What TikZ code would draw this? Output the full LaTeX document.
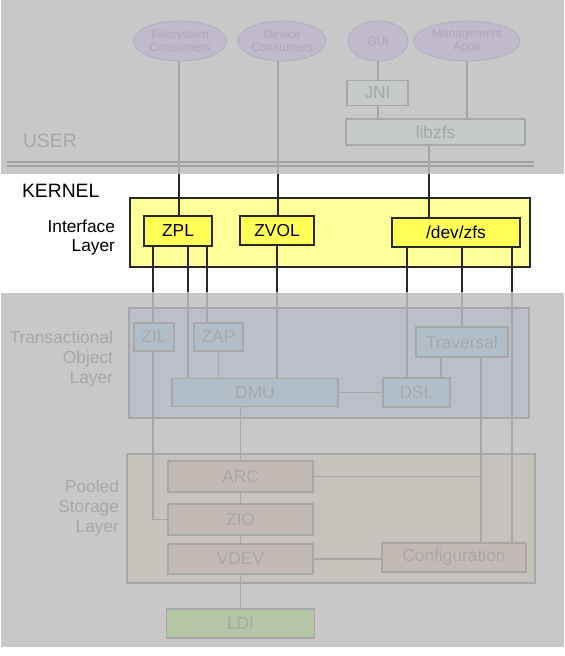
\documentclass[tikz,border=0pt]{standalone}
\usepackage{fontspec}
\setmainfont{Liberation Sans}
\usetikzlibrary{shapes,calc}
\definecolor{fadebg}{RGB}{200,200,200}
\definecolor{fadeline}{RGB}{168,168,168}
\definecolor{fadetext}{RGB}{168,168,168}
\definecolor{sepgray}{RGB}{160,160,160}
\definecolor{consumerpurple}{RGB}{192,186,203}
\definecolor{consumeredge}{RGB}{182,177,192}
\definecolor{consumertext}{RGB}{174,168,186}
\definecolor{libgray}{RGB}{196,201,201}
\definecolor{tolblue}{RGB}{187,192,200}
\definecolor{tolbox}{RGB}{177,190,200}
\definecolor{pslbrown}{RGB}{199,194,188}
\definecolor{pslbox}{RGB}{196,186,181}
\definecolor{ldigreen}{RGB}{180,198,166}
\definecolor{ifaceyellow}{RGB}{255,255,153}
\definecolor{zplyellow}{RGB}{255,255,85}
\definecolor{kernelline}{RGB}{40,40,40}

\begin{document}
\begin{tikzpicture}[x=0.75pt, y=-0.75pt,
  every node/.style={inner sep=0pt, outer sep=0pt},
  gline/.style={draw=fadeline, line width=0.8pt},
  kline/.style={draw=kernelline, line width=0.8pt},
  consumer/.style={ellipse, draw=consumeredge, fill=consumerpurple, line width=0.8pt, text=consumertext, align=center, font=\fontsize{9}{9.75}\selectfont, minimum height=30pt},
  fadebox/.style={draw=fadeline, line width=1pt, text=fadetext, font=\fontsize{13}{15}\selectfont},
  kernelbox/.style={draw=kernelline, line width=1pt, fill=zplyellow, font=\fontsize{13}{15}\selectfont},
  layerlabel/.style={anchor=east, align=right, font=\fontsize{13}{15}\selectfont}
]
\useasboundingbox (0,0) rectangle (564,656);

% Backgrounds
\fill[fadebg] (1,0) rectangle (564,174);
\fill[fadebg] (1,293) rectangle (564,647);
\draw[sepgray, line width=1.1pt] (7,162) -- (534,162);
\draw[sepgray, line width=1.1pt] (7,166) -- (534,166);

% User space
\node[text=fadetext, anchor=west, font=\fontsize{14.5}{17}\selectfont] (user) at (23,141) {USER};
\node[consumer, minimum width=69.75pt] (fsc) at (180,41) {Filesystem\\Consumers};
\node[consumer, minimum width=66pt] (dvc) at (282,41) {Device\\Consumers};
\node[consumer, minimum width=45pt] (gui) at (378,41) {GUI};
\node[consumer, minimum width=79.5pt] (mgmt) at (467,41) {Management\\Apps};
\node[fadebox, fill=libgray, minimum width=45.75pt, minimum height=18.75pt] (jni) at (377.5,93) {JNI};
\node[fadebox, fill=libgray, minimum width=134.25pt, minimum height=19.5pt] (libzfs) at (435.5,132) {libzfs};

% Kernel: interface layer
\node[anchor=west, font=\fontsize{14.5}{17}\selectfont] (kernel) at (22,191) {KERNEL};
\node[layerlabel, font=\fontsize{13}{14.25}\selectfont] (ilabel) at (115,238) {Interface\\Layer};
\node[draw=kernelline, line width=1pt, fill=ifaceyellow, minimum width=300pt, minimum height=51.75pt] (iface) at (330,232.5) {};
\node[kernelbox, minimum width=51pt, minimum height=22.5pt] (zpl) at (178,231) {ZPL};
\node[kernelbox, minimum width=55.5pt, minimum height=21.75pt] (zvol) at (277,230.5) {ZVOL};
\node[kernelbox, minimum width=96pt, minimum height=21.75pt] (devzfs) at (456,232.5) {/dev/zfs};

% Transactional object layer
\node[layerlabel, text=fadetext] (tlabel) at (113,359) {Transactional\\Object\\Layer};
\node[draw=fadeline, line width=1pt, fill=tolblue, minimum width=300pt, minimum height=82.5pt] (tol) at (329,363) {};
\node[fadebox, fill=tolbox, minimum width=30pt, minimum height=21pt] (zil) at (154,337) {ZIL};
\node[fadebox, fill=tolbox, minimum width=36.75pt, minimum height=21pt] (zap) at (218.5,337) {ZAP};
\node[fadebox, fill=tolbox, minimum width=69pt, minimum height=22.5pt] (traversal) at (462,342) {Traversal};
\node[fadebox, fill=tolbox, minimum width=124.5pt, minimum height=21pt] (dmu) at (255,392.5) {DMU};
\node[fadebox, fill=tolbox, minimum width=50.25pt, minimum height=21.75pt] (dsl) at (416.5,392.5) {DSL};

% Pooled storage layer
\node[layerlabel, text=fadetext] (plabel) at (119,508) {Pooled\\Storage\\Layer};
\node[draw=fadeline, line width=1pt, fill=pslbrown, minimum width=306pt, minimum height=96.75pt] (psl) at (331,518.5) {};
\node[fadebox, fill=pslbox, minimum width=108.75pt, minimum height=23.25pt] (arc) at (240.5,476.5) {ARC};
\node[fadebox, fill=pslbox, minimum width=108.75pt, minimum height=23.25pt] (zio) at (240.5,519.5) {ZIO};
\node[fadebox, fill=pslbox, minimum width=108.75pt, minimum height=22.5pt] (vdev) at (240.5,559) {VDEV};
\node[fadebox, fill=pslbox, minimum width=108pt, minimum height=21.75pt] (config) at (454,557.5) {Configuration};
\node[fadebox, fill=ldigreen, minimum width=111pt, minimum height=21.75pt] (ldi) at (240.5,623.5) {LDI};

% Crossing points between the regions
\coordinate (ua) at (179,174);
\coordinate (ub) at (278,174);
\coordinate (uc) at (429,174);
\coordinate (ka) at (153,292);
\coordinate (kb) at (188,292);
\coordinate (kc) at (207,292);
\coordinate (kd) at (277,292);
\coordinate (ke) at (407,292);
\coordinate (kf) at (462,292);
\coordinate (kg) at (512,292);
\coordinate (tva) at ($(traversal.south west)+(25,0)$);
\coordinate (tvb) at ($(traversal.south east)+(-27,0)$);

% User connectors
\draw[gline] (gui.south) -- (gui.south |- jni.north);
\draw[gline] (jni.south -| gui.south) -- (gui.south |- libzfs.north);
\draw[gline] (mgmt.south) -- (mgmt.south |- libzfs.north);
\draw[gline] (fsc.south -| ua) -- (ua);
\draw[gline] (dvc.south -| ub) -- (ub);
\draw[gline] (libzfs.south -| uc) -- (uc);
\draw[kline] (ua) -- (ua |- zpl.north);
\draw[kline] (ub) -- (ub |- zvol.north);
\draw[kline] (uc) -- (uc |- devzfs.north);

% Kernel connectors
\draw[kline] (zpl.south -| ka) -- (ka);
\draw[kline] (zpl.south -| kb) -- (kb);
\draw[kline] (zpl.south -| kc) -- (kc);
\draw[kline] (zvol.south -| kd) -- (kd);
\draw[kline] (devzfs.south -| ke) -- (ke);
\draw[kline] (devzfs.south -| kf) -- (kf);
\draw[kline] (devzfs.south -| kg) -- (kg);

% Lower connectors
\draw[gline] (ka) -- (ka |- zil.north);
\draw[gline] (zil.south -| ka) |- (zio.west);
\draw[gline] (kb) -- (kb |- dmu.north);
\draw[gline] (kc) -- (kc |- zap.north);
\draw[gline] (zap.south) -- (zap.south |- dmu.north);
\draw[gline] (kd) -- (kd |- dmu.north);
\draw[gline] (ke) -- (ke |- dsl.north);
\draw[gline] (kf) -- (kf |- traversal.north);
\draw[gline] (kg) -- (kg |- config.north);
\draw[gline] (tva) -- (tva |- dsl.north);
\draw[gline] (tvb) -- (tvb |- config.north);
\draw[gline] (dmu.east) -- (dsl.west);
\draw[gline] (arc.north |- dmu.south) -- (arc.north);
\draw[gline] (arc.east) -- (arc.east -| tvb);
\draw[gline] (arc) -- (zio);
\draw[gline] (zio) -- (vdev);
\draw[gline] (vdev) -- (ldi);
\draw[gline] (vdev.east) -- (vdev.east -| config.west);

\end{tikzpicture}
\end{document}
